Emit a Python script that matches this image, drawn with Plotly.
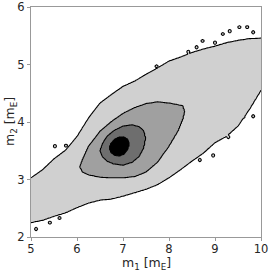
import numpy as np
import plotly.graph_objects as go

# ---- contour-level boundaries (m1 columns, m2 lower/upper) ----
outer_m1 = [5.0, 5.25, 5.5, 5.75, 6.0, 6.25, 6.5, 6.75, 7.0, 7.25, 7.5, 7.75, 8.0,
            8.25, 8.5, 8.75, 9.0, 9.25, 9.5, 9.75, 10.0]
outer_lo = [2.25, 2.29, 2.36, 2.42, 2.51, 2.59, 2.64, 2.66, 2.71, 2.77, 2.83, 2.91, 3.03,
            3.17, 3.32, 3.46, 3.64, 3.75, 3.93, 4.22, 4.55]
outer_hi = [3.03, 3.17, 3.36, 3.51, 3.75, 4.07, 4.33, 4.48, 4.62, 4.71, 4.83, 4.94, 5.06,
            5.13, 5.21, 5.27, 5.32, 5.38, 5.42, 5.45, 5.46]

mid_m1 = [6.06, 6.12, 6.25, 6.5, 6.75, 7.0, 7.25, 7.5, 7.75, 8.0, 8.2, 8.3, 8.34]
mid_lo = [3.22, 3.13, 3.08, 3.04, 3.03, 3.03, 3.05, 3.13, 3.30, 3.58, 3.85, 4.05, 4.18]
mid_hi = [3.22, 3.35, 3.58, 3.84, 4.01, 4.15, 4.25, 4.32, 4.35, 4.33, 4.30, 4.28, 4.18]

dark_m1 = [6.50, 6.55, 6.65, 6.8, 7.0, 7.2, 7.35, 7.45, 7.49]
dark_lo = [3.50, 3.40, 3.32, 3.27, 3.25, 3.30, 3.40, 3.55, 3.72]
dark_hi = [3.50, 3.62, 3.75, 3.85, 3.93, 3.95, 3.92, 3.85, 3.72]

core_m1 = [6.70, 6.74, 6.82, 6.92, 7.02, 7.10, 7.14]
core_lo = [3.55, 3.47, 3.42, 3.41, 3.44, 3.52, 3.62]
core_hi = [3.55, 3.63, 3.70, 3.74, 3.74, 3.70, 3.62]

# isolated outlier islands of the outer level
island_m1 = [5.11, 5.41, 5.62, 5.62, 5.78, 5.98, 5.21, 5.52, 5.76, 7.73, 8.42, 8.60, 8.73,
             9.00, 9.17, 9.32, 9.53, 9.70, 9.83, 9.98, 9.91, 9.94, 9.69, 9.83, 9.62, 9.47,
             9.29, 9.29, 8.96, 8.67]
island_m2 = [2.14, 2.25, 2.33, 2.82, 2.98, 3.11, 3.11, 3.58, 3.59, 4.97, 5.22, 5.30, 5.41,
             5.38, 5.53, 5.58, 5.65, 5.65, 5.56, 5.29, 4.90, 4.72, 4.39, 4.10, 4.09, 4.10,
             3.94, 3.74, 3.42, 3.34]

x_ticks = [5, 6, 7, 8, 9, 10]
y_ticks = [2, 3, 4, 5, 6]
x_title = "m<sub>1</sub> [m<sub>E</sub>]"
y_title = "m<sub>2</sub> [m<sub>E</sub>]"

# ---- build the density-level grid from the boundaries ----
gx = np.linspace(5, 10, 251)
gy = np.linspace(2, 6, 201)
X, Y = np.meshgrid(gx, gy)
eps = gy[1] - gy[0]


def band(m1, lo, hi):
    m1 = np.asarray(m1)
    l = np.interp(gx, m1, lo)
    h = np.interp(gx, m1, hi)
    inside_x = (gx >= m1[0]) & (gx <= m1[-1])
    l = np.where(inside_x, l, np.inf)
    h = np.where(inside_x, h, -np.inf)
    d = np.minimum(Y - l[None, :], h[None, :] - Y)
    return np.clip(d / eps + 0.5, 0, 1)


outer = band(outer_m1, outer_lo, outer_hi)
px_x = 46.0
px_y = 57.5
for a, b in zip(island_m1, island_m2):
    dist = np.sqrt(((X - a) * px_x) ** 2 + ((Y - b) * px_y) ** 2)
    outer = np.maximum(outer, np.clip((1.5 - dist) / 1.0 + 0.5, 0, 1))

Z = outer + band(mid_m1, mid_lo, mid_hi) + band(dark_m1, dark_lo, dark_hi) + band(core_m1, core_lo, core_hi)

c1, c2, c3 = "#d0d0d0", "#a0a0a0", "#6e6e6e"
cs = [[0, "white"], [0.125, "white"], [0.125, c1], [0.375, c1], [0.375, c2],
      [0.625, c2], [0.625, c3], [0.875, c3], [0.875, "black"], [1, "black"]]

fig = go.Figure(go.Contour(
    x=gx, y=gy, z=Z, zmin=0, zmax=4, colorscale=cs, showscale=False,
    contours=dict(start=0.5, end=3.5, size=1, coloring="fill"),
    line=dict(color="black", width=1.1), hoverinfo="skip",
))

font_tick = dict(family="DejaVu Sans", size=11.5, color="#262626")
font_title = dict(family="DejaVu Sans", size=12.5, color="#262626")
axis_common = dict(
    showgrid=True, gridcolor="#ebebeb", gridwidth=1, zeroline=False,
    showline=True, linecolor="#999999", linewidth=1, mirror=True,
    ticks="outside", ticklen=3, tickcolor="#999999", tickwidth=1,
    tickfont=font_tick, automargin=False,
)
fig.update_xaxes(range=[5, 10], tickvals=x_ticks, ticktext=[str(t) for t in x_ticks],
                 ticklabelstandoff=-2, **axis_common)
fig.update_yaxes(range=[2, 6], tickvals=y_ticks, ticktext=[str(t) for t in y_ticks], **axis_common)
fig.add_annotation(text=x_title, xref="paper", yref="paper", x=0.5, y=0,
                   xanchor="center", yanchor="middle", yshift=-26.5, showarrow=False,
                   font=font_title)
fig.add_annotation(text=y_title, xref="paper", yref="paper", x=0, y=0.5,
                   xanchor="center", yanchor="middle", xshift=-21, textangle=-90,
                   showarrow=False, font=font_title)
fig.update_layout(width=273, height=273, margin=dict(l=31, r=12, t=7, b=36),
                  plot_bgcolor="white", paper_bgcolor="white", showlegend=False)
fig.write_html("out.html", config={"displayModeBar": False},
               post_script="document.body.style.margin='0';")
